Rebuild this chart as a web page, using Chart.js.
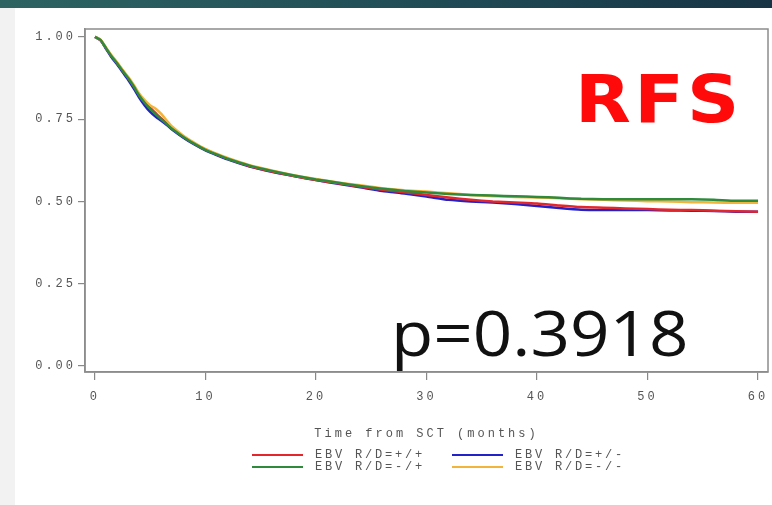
<!DOCTYPE html>
<html>
<head>
<meta charset="utf-8">
<script src="https://cdn.jsdelivr.net/npm/chart.js@4.4.1/dist/chart.umd.min.js"></script>
<style>
  html,body{margin:0;padding:0;background:#fff;}
  #wrap{position:relative;width:772px;height:505px;overflow:hidden;background:#fff;}
  #band{position:absolute;left:0;top:0;width:772px;height:8px;background:linear-gradient(90deg,#2d6462,#1f4a55 60%,#173444);}
  #strip{position:absolute;left:0;top:8px;width:15px;height:497px;background:#f2f2f2;}
  #c{position:absolute;left:0;top:0;}
  .big{position:absolute;white-space:nowrap;transform-origin:0 0;}
  #rfs{left:575px;top:67px;font:bold 66px/1 "DejaVu Sans";color:#ff0a0a;letter-spacing:3px;transform:scaleX(1.1);}
  #pval{left:391px;top:301px;font:62px/1 "Open Sans";color:#111;transform:scaleX(1.115);}
  .lg-line{position:absolute;width:51px;height:2px;}
  .lg-text{position:absolute;font:12px/12px "Liberation Mono";letter-spacing:2.8px;color:#555;white-space:nowrap;}
</style>
</head>
<body>
<div id="wrap">
  <canvas id="c" width="772" height="505"></canvas>
  <div id="strip"></div>
  <div id="band"></div>
  <div class="big" id="rfs">RFS</div>
  <div class="big" id="pval">p=0.3918</div>
  <div id="legend"></div>
</div>
<script>
// time points (months from SCT)
const months = [0,0.5,1,1.5,2,2.5,3,3.5,4,4.5,5,5.5,6,6.5,7,8,9,10,11,12,14,16,18,20,22,24,
                26,28,30,32,34,36,38,40,42,44,46,48,50,52,54,56,58,60];

// survival estimates
const survPosPos = [1.0,0.99,0.966,0.942,0.921,0.898,0.876,0.851,0.824,0.801,0.784,0.768,0.752,0.737,0.722,0.697,0.676,0.658,0.643,0.63,0.607,0.591,0.577,0.565,0.555,0.545,
                    0.536,0.528,0.52,0.512,0.505,0.5,0.497,0.494,0.488,0.483,0.481,0.479,0.477,0.475,0.474,0.472,0.47,0.469];
const survPosNeg = [1.0,0.99,0.964,0.938,0.917,0.893,0.87,0.844,0.816,0.792,0.772,0.757,0.745,0.732,0.718,0.694,0.673,0.655,0.641,0.628,0.606,0.59,0.577,0.565,0.554,0.543,
                    0.532,0.524,0.515,0.505,0.5,0.497,0.492,0.486,0.48,0.475,0.474,0.474,0.474,0.473,0.472,0.471,0.469,0.469];
const survNegPos = [1.0,0.991,0.966,0.941,0.92,0.897,0.875,0.85,0.822,0.8,0.781,0.765,0.75,0.735,0.72,0.696,0.675,0.657,0.643,0.63,0.609,0.593,0.579,0.567,0.557,0.547,
                    0.539,0.532,0.527,0.523,0.52,0.518,0.516,0.514,0.511,0.508,0.507,0.507,0.507,0.507,0.507,0.505,0.502,0.502];
const survNegNeg = [1.0,0.992,0.968,0.944,0.923,0.9,0.879,0.855,0.828,0.808,0.792,0.782,0.766,0.746,0.727,0.7,0.678,0.659,0.645,0.632,0.61,0.594,0.58,0.568,0.558,0.549,
                    0.54,0.534,0.53,0.525,0.52,0.516,0.514,0.512,0.51,0.507,0.505,0.503,0.501,0.5,0.498,0.497,0.496,0.496];

const seriesLabels = ['EBV R/D=+/+','EBV R/D=+/-','EBV R/D=-/+','EBV R/D=-/-'];
const seriesColors = ['#e3262b','#2222c8','#2f8a3c','#f3b43c'];
const xTicks = [0,10,20,30,40,50,60];
const yTicks = [0,0.25,0.5,0.75,1];
const xTitle = 'Time from SCT (months)';

const allSeries = [survPosPos, survPosNeg, survNegPos, survNegNeg];
const drawOrder = [3,4,1,2];

const datasets = allSeries.map((s,i)=>({
  label: seriesLabels[i],
  data: s.map((v,k)=>({x:months[k], y:v})),
  borderColor: seriesColors[i],
  borderWidth: 2.5,
  pointRadius: 0,
  tension: 0.2,
  fill: false,
  order: drawOrder[i]
}));

// SAS-style wide mono text + closed plot frame
const frame = {
  id:'frame',
  beforeLayout(chart){ chart.ctx.letterSpacing='3px'; },
  beforeDraw(chart){ chart.ctx.letterSpacing='3px'; },
  afterDraw(chart){
    const {ctx, chartArea:a} = chart;
    ctx.save();
    ctx.strokeStyle='#8c8c8c'; ctx.lineWidth=1.5;
    ctx.strokeRect(a.left, a.top, a.right-a.left, a.bottom-a.top);
    ctx.restore();
  }
};

const tickFont = { family:'Liberation Mono', size:12 };

new Chart(document.getElementById('c'), {
  type:'line',
  data:{ datasets },
  options:{
    responsive:false,
    animation:false,
    layout:{ padding:{ left:0, top:29, right:4, bottom:0 } },
    plugins:{ legend:{display:false}, tooltip:{enabled:false} },
    scales:{
      x:{
        type:'linear', min:-0.9, max:60.9,
        afterBuildTicks(s){ s.ticks = xTicks.map(v=>({value:v})); },
        afterFit(s){ s.height = 133; s.paddingLeft = 0; s.paddingRight = 0; },
        ticks:{ font:tickFont, color:'#555', padding:10, maxRotation:0, autoSkip:false },
        grid:{ drawOnChartArea:false, drawTicks:true, tickLength:8, color:'#888', lineWidth:1.2 },
        border:{ display:true, color:'#8c8c8c', width:1.5 },
        title:{ display:true, text:xTitle, font:tickFont, color:'#555', padding:{top:0,bottom:64} }
      },
      y:{
        min:-0.018, max:1.024,
        afterBuildTicks(s){ s.ticks = yTicks.map(v=>({value:v})); },
        afterFit(s){ s.width = 85; s.paddingTop = 0; s.paddingBottom = 0; },
        ticks:{ font:tickFont, color:'#555', padding:2, callback:v=>Number(v).toFixed(2) },
        grid:{ drawOnChartArea:false, drawTicks:true, tickLength:7, color:'#888', lineWidth:1.2 },
        border:{ display:true, color:'#8c8c8c', width:1.5 }
      }
    }
  },
  plugins:[frame]
});

// two-column legend under the axis title
const lg = document.getElementById('legend');
const slots = [[252,455],[452,455],[252,467],[452,467]];
seriesLabels.forEach((lab,i)=>{
  const [x,y] = slots[i];
  const ln = document.createElement('div');
  ln.className='lg-line';
  ln.style.left=x+'px'; ln.style.top=(y-1)+'px'; ln.style.background=seriesColors[i];
  lg.appendChild(ln);
  const tx = document.createElement('div');
  tx.className='lg-text';
  tx.style.left=(x+63)+'px'; tx.style.top=(y-6)+'px';
  tx.textContent=lab;
  lg.appendChild(tx);
});
</script>
</body>
</html>
